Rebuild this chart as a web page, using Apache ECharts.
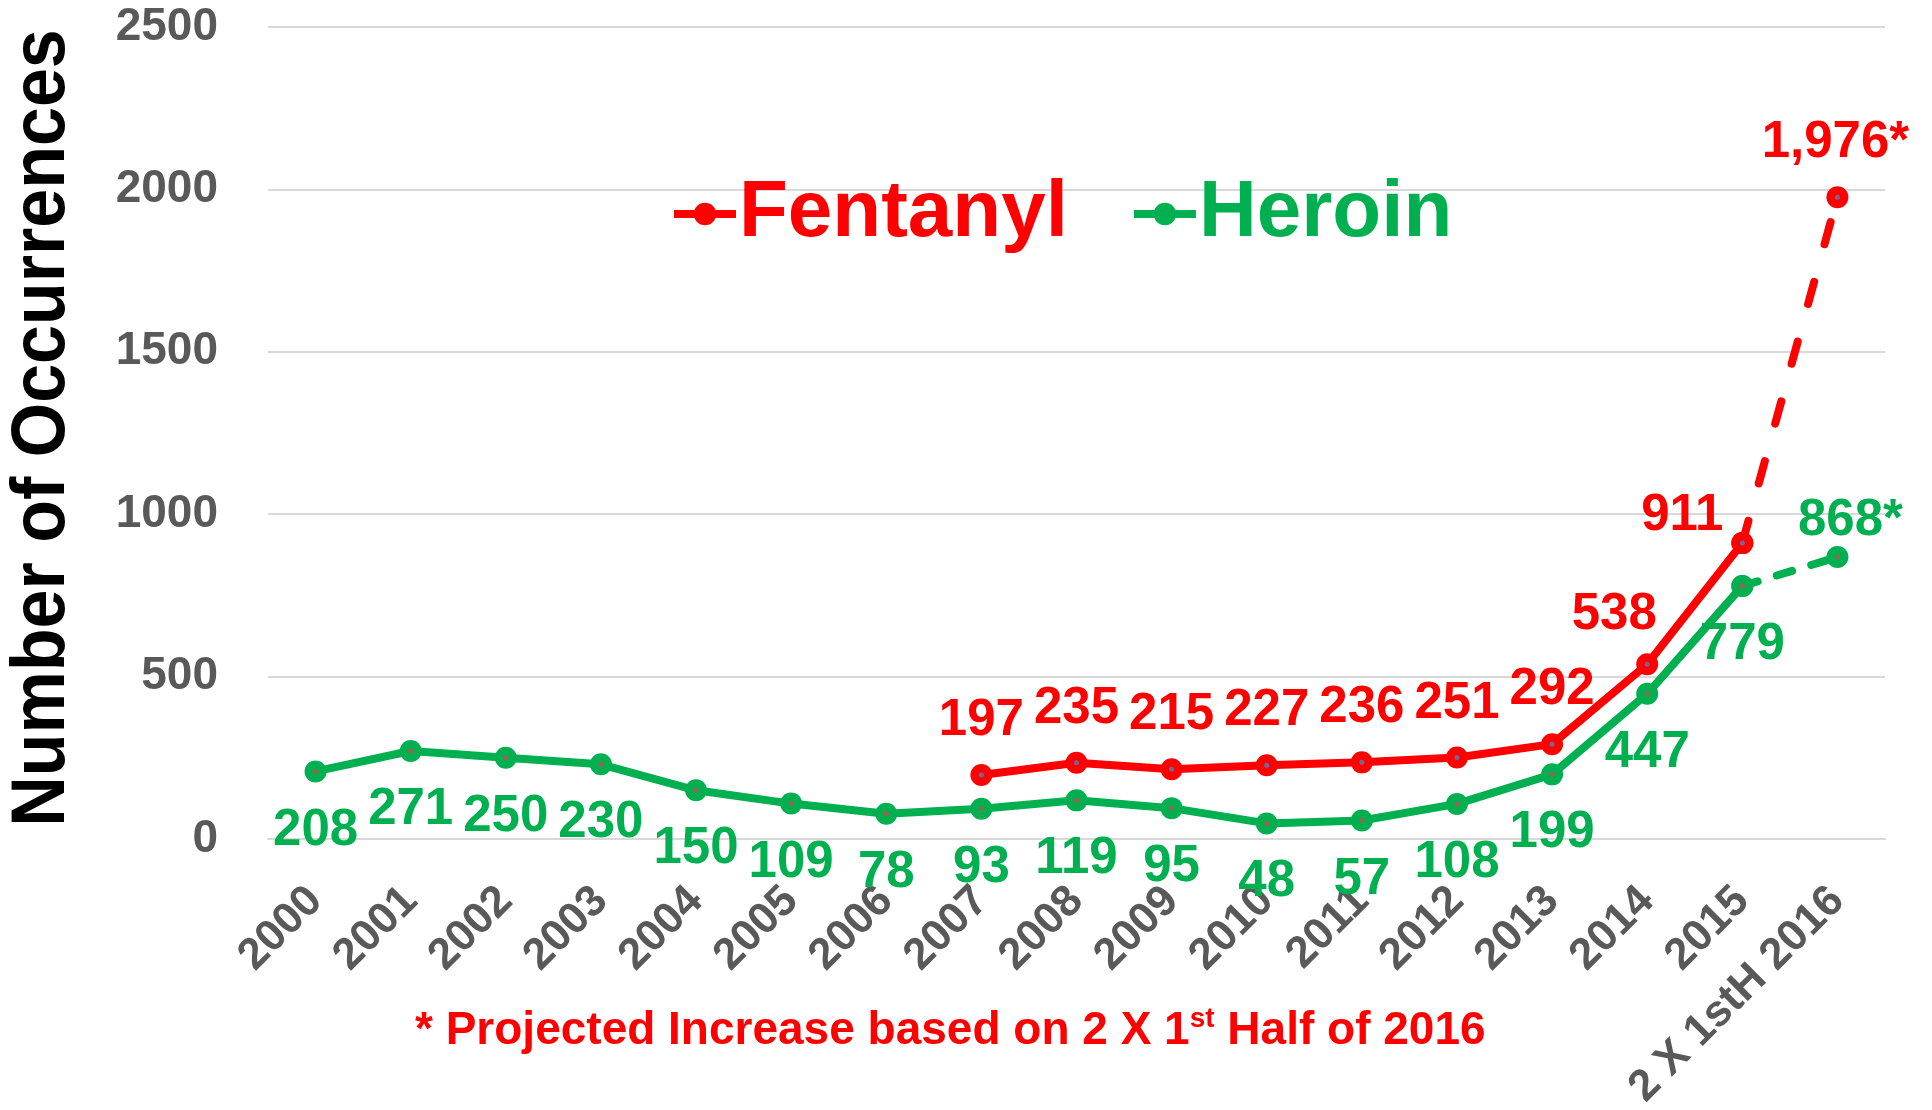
<!DOCTYPE html>
<html><head><meta charset="utf-8">
<script src="https://cdn.jsdelivr.net/npm/echarts@6/dist/echarts.min.js"></script>
<style>html,body{margin:0;padding:0;background:#fff}#c{width:1932px;height:1110px}</style>
</head><body><div id="c"></div>
<script>
const categories = ['2000','2001','2002','2003','2004','2005','2006','2007','2008','2009','2010','2011','2012','2013','2014','2015','2 X 1stH 2016'];
const heroin = [208,271,250,230,150,109,78,93,119,95,48,57,108,199,447,779,null];
const heroinProjected = [null,null,null,null,null,null,null,null,null,null,null,null,null,null,null,779,868];
const fentanyl = [null,null,null,null,null,null,null,197,235,215,227,236,251,292,538,911,null];
const fentanylProjected = [null,null,null,null,null,null,null,null,null,null,null,null,null,null,null,911,1976];
const yAxisMin = 0, yAxisMax = 2500, yAxisStep = 500;
const yTitle = 'Number of Occurrences';
const footnoteMain = '* Projected Increase based on 2 X 1';
const footnoteSup = 'st';
const footnoteTail = ' Half of 2016';

const RED = '#FF0000', GREEN = '#00B050', GRAY = '#595959', GRID = '#D9D9D9';
const FONT = 'Liberation Sans, Arial, sans-serif';
const LAST = categories.length - 1;

const fentOffsets = {14: [-33, -49], 15: [-60, -27]};

function solidData(arr, offsets, defOff) {
  return arr.map((v, i) => {
    if (v == null) return '-';
    return {value: v, label: {offset: (offsets && offsets[i]) || defOff}};
  });
}
function projData(arr, off) {
  return arr.map((v, i) => {
    if (v == null) return '-';
    if (i === LAST) return {value: v, label: {show: true, offset: off}};
    return {value: v, label: {show: false}};
  });
}
const labelBase = {fontFamily: FONT, fontWeight: 'bold', fontSize: 51, position: 'inside'};

const chart = echarts.init(document.getElementById('c'), null, {renderer: 'canvas'});
chart.setOption({
  animation: false,
  backgroundColor: '#fff',
  grid: {left: 268, right: 47, top: 27, bottom: 271, containLabel: false, outerBoundsMode: 'none'},
  legend: {
    data: [
      {name: 'Fentanyl', textStyle: {color: RED}},
      {name: 'Heroin', textStyle: {color: GREEN}}
    ],
    left: 665, top: 164,
    itemWidth: 62, itemHeight: 28, itemGap: 62,
    lineStyle: {width: 8},
    textStyle: {fontFamily: FONT, fontWeight: 'bold', fontSize: 80, lineHeight: 90, padding: [0,0,0,-2]},
    selectedMode: false
  },
  xAxis: {
    type: 'category', data: categories, boundaryGap: true,
    axisLine: {show: true, lineStyle: {color: GRID, width: 2}},
    axisTick: {show: false},
    axisLabel: {rotate: 45, interval: 0, margin: 55, color: GRAY, fontFamily: FONT, fontWeight: 'bold', fontSize: 44}
  },
  yAxis: {
    type: 'value', min: yAxisMin, max: yAxisMax, interval: yAxisStep,
    axisLine: {show: false}, axisTick: {show: false},
    splitLine: {lineStyle: {color: GRID, width: 2}},
    axisLabel: {margin: 50, color: GRAY, fontFamily: FONT, fontWeight: 'bold', fontSize: 46, formatter: v => String(v)}
  },
  series: [
    {
      name: 'Heroin', type: 'line', data: solidData(heroin, null, [0, 59]),
      symbol: 'circle', symbolSize: 22, z: 3,
      lineStyle: {color: GREEN, width: 8}, itemStyle: {color: GREEN},
      label: Object.assign({show: true, color: GREEN}, labelBase)
    },
    {
      name: 'Heroin projected', type: 'line', data: projData(heroinProjected, [13, -36]),
      symbol: 'circle', symbolSize: 22, z: 3,
      lineStyle: {color: GREEN, width: 8, type: [16, 20], cap: 'round'}, itemStyle: {color: GREEN},
      label: Object.assign({show: false, color: GREEN, formatter: p => p.value.toLocaleString('en-US') + '*'}, labelBase)
    },
    {
      name: 'Fentanyl', type: 'line', data: solidData(fentanyl, fentOffsets, [0, -54]),
      symbol: 'circle', symbolSize: 22, z: 4,
      lineStyle: {color: RED, width: 8}, itemStyle: {color: RED},
      label: Object.assign({show: true, color: RED}, labelBase)
    },
    {
      name: 'Fentanyl projected', type: 'line', data: projData(fentanylProjected, [-2, -54]),
      symbol: 'circle', symbolSize: 22, z: 4,
      lineStyle: {color: RED, width: 8, type: [23, 39], cap: 'round'}, itemStyle: {color: RED},
      label: Object.assign({show: false, color: RED, formatter: p => p.value.toLocaleString('en-US') + '*'}, labelBase)
    },
    {
      name: 'hdots', type: 'scatter', z: 5, silent: true, symbolSize: 5,
      itemStyle: {color: '#C0504D'},
      data: heroin.map((v, i) => (v == null ? (heroinProjected[i] == null ? '-' : heroinProjected[i]) : v))
    },
    {
      name: 'fdots', type: 'scatter', z: 6, silent: true, symbolSize: 5,
      itemStyle: {color: '#4F81BD'},
      data: fentanyl.map((v, i) => (v == null ? (fentanylProjected[i] == null ? '-' : fentanylProjected[i]) : v))
    }
  ],
  graphic: [
    {
      type: 'text', x: 43, y: 428, rotation: Math.PI / 2, scaleY: 1.08,
      style: {text: yTitle, fill: '#000', font: 'bold 70px "Liberation Sans", Arial, sans-serif', align: 'center', verticalAlign: 'middle'}
    },
    {
      type: 'text', x: 415, y: 1031,
      style: {
        text: '{m|' + footnoteMain + '}{s|' + footnoteSup + '}{m|' + footnoteTail + '}',
        align: 'left', verticalAlign: 'middle',
        rich: {
          m: {fontFamily: FONT, fontWeight: 'bold', fontSize: 46, fill: RED, lineHeight: 52, verticalAlign: 'middle'},
          s: {fontFamily: FONT, fontWeight: 'bold', fontSize: 28, fill: RED, lineHeight: 52, verticalAlign: 'top'}
        }
      }
    }
  ]
});
</script></body></html>
